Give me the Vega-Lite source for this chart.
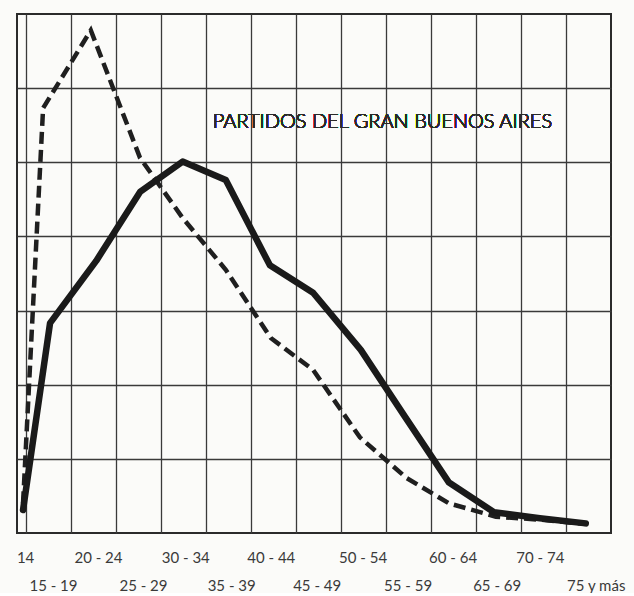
{
  "$schema": "https://vega.github.io/schema/vega-lite/v6.json",
  "width": 594,
  "height": 519,
  "padding": {"left": 14, "top": 14, "right": 10, "bottom": 0},
  "background": "#fbfbf9",
  "config": {
    "view": {"stroke": "#2b2b2b", "strokeWidth": 2},
    "font": "Lato"
  },
  "datasets": {
    "curvas": [
      {"grupo": "14", "edad": 14.67, "valor": 0.31, "serie": "1"},
      {"grupo": "15 - 19", "edad": 17.67, "valor": 2.83, "serie": "1"},
      {"grupo": "20 - 24", "edad": 22.8, "valor": 3.67, "serie": "1"},
      {"grupo": "25 - 29", "edad": 27.67, "valor": 4.6, "serie": "1"},
      {"grupo": "30 - 34", "edad": 32.4, "valor": 5.01, "serie": "1"},
      {"grupo": "35 - 39", "edad": 37.2, "valor": 4.76, "serie": "1"},
      {"grupo": "40 - 44", "edad": 42.1, "valor": 3.61, "serie": "1"},
      {"grupo": "45 - 49", "edad": 46.9, "valor": 3.24, "serie": "1"},
      {"grupo": "50 - 54", "edad": 52.2, "valor": 2.47, "serie": "1"},
      {"grupo": "55 - 59", "edad": 57.1, "valor": 1.57, "serie": "1"},
      {"grupo": "60 - 64", "edad": 62.0, "valor": 0.68, "serie": "1"},
      {"grupo": "65 - 69", "edad": 67.0, "valor": 0.28, "serie": "1"},
      {"grupo": "70 - 74", "edad": 72.1, "valor": 0.2, "serie": "1"},
      {"grupo": "75 y más", "edad": 77.2, "valor": 0.13, "serie": "1"},
      {"grupo": "14", "edad": 14.67, "valor": 0.4, "serie": "2"},
      {"grupo": "15 - 19", "edad": 16.9, "valor": 5.73, "serie": "2"},
      {"grupo": "20 - 24", "edad": 22.2, "valor": 6.78, "serie": "2"},
      {"grupo": "25 - 29", "edad": 27.67, "valor": 5.06, "serie": "2"},
      {"grupo": "30 - 34", "edad": 32.4, "valor": 4.25, "serie": "2"},
      {"grupo": "35 - 39", "edad": 37.2, "valor": 3.55, "serie": "2"},
      {"grupo": "40 - 44", "edad": 42.2, "valor": 2.63, "serie": "2"},
      {"grupo": "45 - 49", "edad": 46.9, "valor": 2.2, "serie": "2"},
      {"grupo": "50 - 54", "edad": 52.1, "valor": 1.29, "serie": "2"},
      {"grupo": "55 - 59", "edad": 57.3, "valor": 0.74, "serie": "2"},
      {"grupo": "60 - 64", "edad": 62.0, "valor": 0.4, "serie": "2"},
      {"grupo": "65 - 69", "edad": 67.2, "valor": 0.22, "serie": "2"},
      {"grupo": "70 - 74", "edad": 72.1, "valor": 0.18, "serie": "2"},
      {"grupo": "75 y más", "edad": 77.2, "valor": 0.12, "serie": "2"}
    ]
  },
  "data": {"name": "curvas"},
  "resolve": {"axis": {"x": "independent", "y": "independent"}},
  "layer": [
    {
      "transform": [{"filter": "datum.serie === '2'"}],
      "mark": {"type": "line", "color": "#1f1f1f", "strokeWidth": 4.5, "strokeDash": [12, 6], "strokeCap": "butt", "strokeJoin": "miter"},
      "encoding": {
        "x": {
          "field": "edad", "type": "quantitative",
          "scale": {"domain": [14, 80], "nice": false, "zero": false},
          "axis": {
            "orient": "bottom", "title": null, "grid": true,
            "values": [15, 20, 25, 30, 35, 40, 45, 50, 55, 60, 65, 70, 75],
            "labels": false, "ticks": false, "domain": false,
            "gridColor": "#3a3a3a", "gridWidth": 1.3, "gridOpacity": 1
          }
        },
        "y": {
          "field": "valor", "type": "quantitative",
          "scale": {"domain": [0, 7], "nice": false},
          "axis": {
            "title": null, "grid": true, "values": [1, 2, 3, 4, 5, 6],
            "labels": false, "ticks": false, "domain": false,
            "gridColor": "#3a3a3a", "gridWidth": 1.3, "gridOpacity": 1,
            "minExtent": 0, "maxExtent": 0
          }
        }
      }
    },
    {
      "transform": [{"filter": "datum.serie === '1'"}],
      "mark": {"type": "line", "color": "#1a1a1a", "strokeWidth": 6.5, "strokeJoin": "round", "strokeCap": "round"},
      "encoding": {
        "x": {
          "field": "edad", "type": "quantitative",
          "axis": {
            "orient": "bottom", "title": null, "grid": false,
            "values": [14.9, 18.0, 23.0, 28.0, 32.7, 37.8, 42.2, 47.3, 52.4, 57.4, 62.4, 67.3, 72.1, 78.3],
            "labelExpr": "datum.value < 16 ? '14' : datum.value < 20 ? ['', '15 - 19'] : datum.value < 25 ? '20 - 24' : datum.value < 30 ? ['', '25 - 29'] : datum.value < 35 ? '30 - 34' : datum.value < 40 ? ['', '35 - 39'] : datum.value < 45 ? '40 - 44' : datum.value < 50 ? ['', '45 - 49'] : datum.value < 55 ? '50 - 54' : datum.value < 60 ? ['', '55 - 59'] : datum.value < 65 ? '60 - 64' : datum.value < 70 ? ['', '65 - 69'] : datum.value < 75 ? '70 - 74' : ['', '75  y  más']",
            "labelBaseline": "top", "labelPadding": 17, "labelLineHeight": 28,
            "labelFontSize": 15, "labelColor": "#3a3a3a", "labelFlush": false, "labelOverlap": false,
            "ticks": false, "domain": false
          }
        },
        "y": {"field": "valor", "type": "quantitative", "axis": null}
      }
    },
    {
      "mark": {"type": "text", "fontSize": 20, "fontWeight": 300, "color": "#2a2a2a", "align": "center", "baseline": "middle"},
      "encoding": {
        "x": {"datum": 54.6, "type": "quantitative", "axis": null},
        "y": {"datum": 5.55, "type": "quantitative", "axis": null},
        "text": {"value": "PARTIDOS DEL GRAN BUENOS AIRES"}
      }
    }
  ]
}
